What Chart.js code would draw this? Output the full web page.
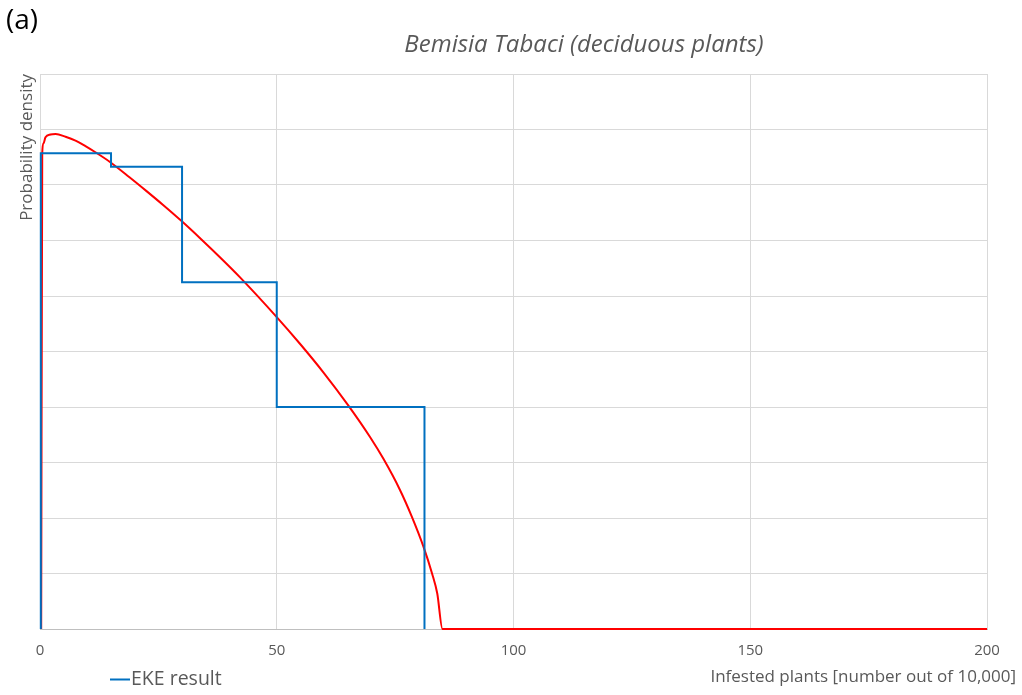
<!DOCTYPE html>
<html><head><meta charset="utf-8">
<script src="https://cdn.jsdelivr.net/npm/chart.js@4.4.1/dist/chart.umd.min.js"></script>
<style>html,body{margin:0;padding:0;background:#fff}</style>
</head><body>
<canvas id="c" width="1022" height="695"></canvas>
<script>
// ---- data ----
const panelLabel = "(a)";
const chartTitle = "Bemisia Tabaci (deciduous plants)";
const xAxisTitle = "Infested plants [number out of 10,000]";
const yAxisTitle = "Probability density";
const ekeLabel = "EKE result";
const fitLabel = "Fitted distribution";
const xTicks = [0, 50, 100, 150, 200];
// EKE histogram: bin edges and densities
const binEdges = [0.17, 15, 30, 50, 81.2];
const binDensity = [0.01714, 0.01666, 0.0125, 0.008];
// fitted distribution curve
const fitX = [0.25, 0.47, 0.74, 1.16, 2.2, 3.3, 5.4, 7.5, 9.6, 11.7, 14.7, 18.9, 22.5, 26.0, 29.9, 33.7, 38.7, 42.2, 50.0, 54.9, 59.8, 65.1, 69.7, 72.5, 76.0, 78.5, 81.0, 82.8, 83.9, 85.0, 200];
const fitY = [0, 0.01714, 0.0175, 0.01772, 0.01782, 0.01784, 0.01774, 0.0176, 0.0174, 0.01718, 0.01684, 0.01628, 0.01578, 0.01528, 0.0147, 0.0141, 0.01328, 0.01268, 0.01124, 0.01028, 0.00926, 0.00806, 0.00692, 0.00614, 0.00502, 0.00406, 0.00296, 0.002, 0.00128, 0, 0];

// ---- build series ----
const ekePoints = [{x: binEdges[0], y: 0}];
for (let i = 0; i < binDensity.length; i++) {
  ekePoints.push({x: binEdges[i], y: binDensity[i]});
  ekePoints.push({x: binEdges[i + 1], y: binDensity[i]});
}
ekePoints.push({x: binEdges[binEdges.length - 1], y: 0});
const fitPoints = fitX.map((x, i) => ({x, y: fitY[i]}));

const FONT = "'Open Sans', Lato, sans-serif";
const GREY = "#595959";

const textPlugin = {
  id: 'texts',
  afterDraw(chart) {
    const ctx = chart.ctx;
    ctx.save();
    ctx.fillStyle = "#000";
    ctx.font = "28px " + FONT;
    ctx.textAlign = "left";
    ctx.textBaseline = "middle";
    ctx.fillText(panelLabel, 6, 21);
    ctx.fillStyle = GREY;
    ctx.font = "italic 24px " + FONT;
    ctx.textAlign = "center";
    ctx.fillText(chartTitle, 584, 45);
    ctx.font = "17px " + FONT;
    ctx.textAlign = "right";
    ctx.fillText(xAxisTitle, 1016, 677);
    // legend
    const ds = chart.data.datasets[0];
    ctx.strokeStyle = ds.borderColor;
    ctx.lineWidth = 2;
    ctx.beginPath();
    ctx.moveTo(110, 679.5);
    ctx.lineTo(130, 679.5);
    ctx.stroke();
    ctx.font = "19.5px " + FONT;
    ctx.textAlign = "left";
    ctx.fillText(ds.label, 131, 679);
    ctx.restore();
  }
};

new Chart(document.getElementById('c'), {
  type: 'line',
  data: {
    datasets: [
      {label: ekeLabel, data: ekePoints, borderColor: '#0070C0', borderWidth: 2, pointRadius: 0, tension: 0, clip: 5},
      {label: fitLabel, data: fitPoints, borderColor: '#FF0000', borderWidth: 2, pointRadius: 0, cubicInterpolationMode: 'monotone', clip: 5}
    ]
  },
  options: {
    responsive: false,
    animation: false,
    devicePixelRatio: 1,
    layout: {padding: {top: 74, right: 35, left: 0, bottom: 0}},
    plugins: {legend: {display: false}, tooltip: {enabled: false}},
    scales: {
      x: {
        type: 'linear', min: xTicks[0], max: xTicks[xTicks.length - 1],
        afterBuildTicks: (s) => { s.ticks = xTicks.map(v => ({value: v})); },
        afterFit: (s) => { s.height = 66; },
        grid: {color: '#d9d9d9', lineWidth: 1, drawTicks: false},
        border: {color: '#bfbfbf', width: 1},
        ticks: {color: GREY, font: {family: FONT, size: 15}, padding: 13}
      },
      y: {
        min: 0, max: 0.02,
        ticks: {display: false, stepSize: 0.002},
        afterFit: (s) => { s.width = 40; },
        grid: {color: '#d9d9d9', lineWidth: 1, drawTicks: false},
        border: {display: false},
        title: {display: true, text: yAxisTitle, align: 'end', color: GREY, font: {family: FONT, size: 17}, padding: {top: 17, bottom: 0}}
      }
    }
  },
  plugins: [textPlugin]
});
</script>
</body></html>
